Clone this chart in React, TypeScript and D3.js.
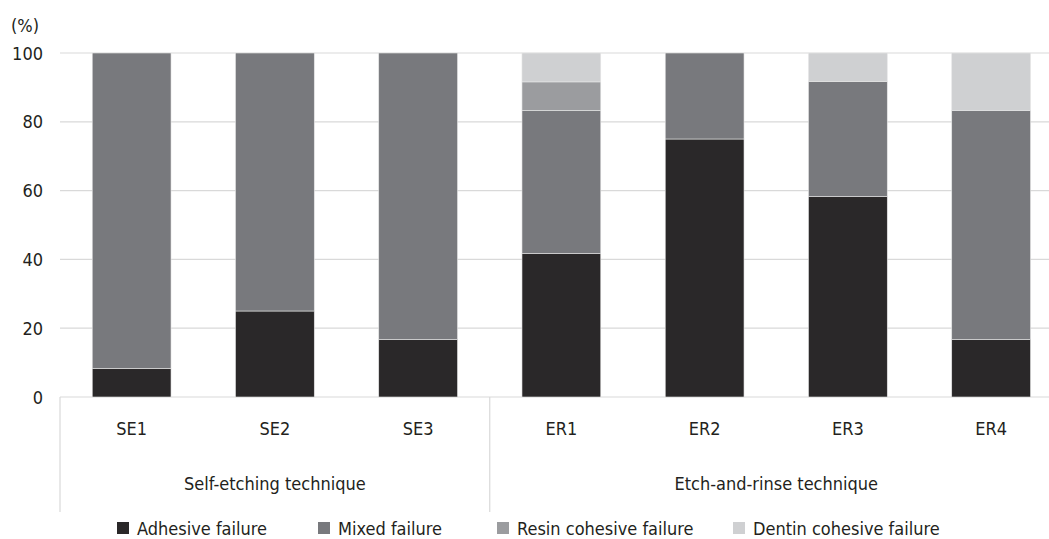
import React from 'react'
import * as d3 from 'd3'

// Failure mode distribution (%) per adhesive group
const categories = ['SE1', 'SE2', 'SE3', 'ER1', 'ER2', 'ER3', 'ER4']
const groupNames = ['Self-etching technique', 'Etch-and-rinse technique']
const groupSizes = [3, 4]

const seriesNames = ['Adhesive failure', 'Mixed failure', 'Resin cohesive failure', 'Dentin cohesive failure']
const adhesive = [8.3, 25, 16.7, 41.7, 75, 58.3, 16.7]
const mixed = [91.7, 75, 83.3, 41.6, 25, 33.4, 66.6]
const resin = [0, 0, 0, 8.3, 0, 0, 0]
const dentin = [0, 0, 0, 8.4, 0, 8.3, 16.7]

const yTicks = [0, 20, 40, 60, 80, 100]

const colors = ['#2a2829', '#78797d', '#9b9c9f', '#cfd0d2']
const legendX = [117, 318, 497, 733]

const W = 1049
const H = 539
const margin = { left: 60, top: 53, bottom: 397 }
const step = 143.25
const font = '"DejaVu Sans Condensed", "DejaVu Sans", sans-serif'
const fs = 18
const textColor = '#231f20'

export default function App() {
  const x = d3.scaleBand<string>()
    .domain(categories)
    .range([margin.left, margin.left + step * categories.length])
    .paddingInner(0.45)
    .paddingOuter(0.225)

  const y = d3.scaleLinear().domain([0, 100]).range([margin.bottom, margin.top])

  const rows = categories.map((c, i) => ({
    cat: c, s0: adhesive[i], s1: mixed[i], s2: resin[i], s3: dentin[i]
  }))
  const stack = d3.stack<any>().keys(['s0', 's1', 's2', 's3'])
  const layers = stack(rows)

  // group boundaries on the category axis
  let acc = 0
  const groups = groupNames.map((name, gi) => {
    const start = acc
    acc += groupSizes[gi]
    const x0 = margin.left + step * start
    const x1 = margin.left + step * acc
    return { name, x0, x1 }
  })
  const bounds = [groups[0].x0, ...groups.map(g => g.x1)]

  return (
    <div style={{ position: 'absolute', left: 0, top: 0 }}>
      <svg width={W} height={H} style={{ display: 'block', background: '#fff' }} fontFamily={font}>
        <text x={11} y={25} dominantBaseline="central" fontSize={fs} fill={textColor}>(%)</text>
        {yTicks.map(t => (
          <g key={t}>
            <line x1={margin.left} x2={W + 20} y1={y(t)} y2={y(t)} stroke="#d9d9d9" strokeWidth={1.2} />
            <text x={43} y={y(t)} textAnchor="end" dominantBaseline="central" fontSize={fs} fill={textColor}>{t}</text>
          </g>
        ))}
        {layers.map((layer, li) => (
          <g key={li} fill={colors[li]}>
            {layer.map((d, i) => (
              d[1] - d[0] > 0 ? (
                <rect key={i}
                  x={x(categories[i])}
                  width={x.bandwidth()}
                  y={y(d[1])}
                  height={y(d[0]) - y(d[1])}
                  stroke="#e6e6e6"
                  strokeWidth={0.6} />
              ) : null
            ))}
          </g>
        ))}
        {bounds.map((b, i) => (
          <line key={i} x1={b} x2={b} y1={margin.bottom} y2={512} stroke="#d9d9d9" strokeWidth={1.2} />
        ))}
        {categories.map(c => (
          <text key={c} x={x(c)! + x.bandwidth() / 2} y={428} textAnchor="middle" dominantBaseline="central" fontSize={fs} fill={textColor}>{c}</text>
        ))}
        {groups.map(g => (
          <text key={g.name} x={(g.x0 + Math.min(g.x1, W + 14)) / 2} y={483} textAnchor="middle" dominantBaseline="central" fontSize={fs} fill={textColor}>{g.name}</text>
        ))}
        {seriesNames.map((s, i) => (
          <g key={s} transform={`translate(${legendX[i]},528)`}>
            <rect x={0} y={-6} width={12} height={12} fill={colors[i]} />
            <text x={20} y={0} dominantBaseline="central" fontSize={fs} fill={textColor}>{s}</text>
          </g>
        ))}
      </svg>
    </div>
  )
}
